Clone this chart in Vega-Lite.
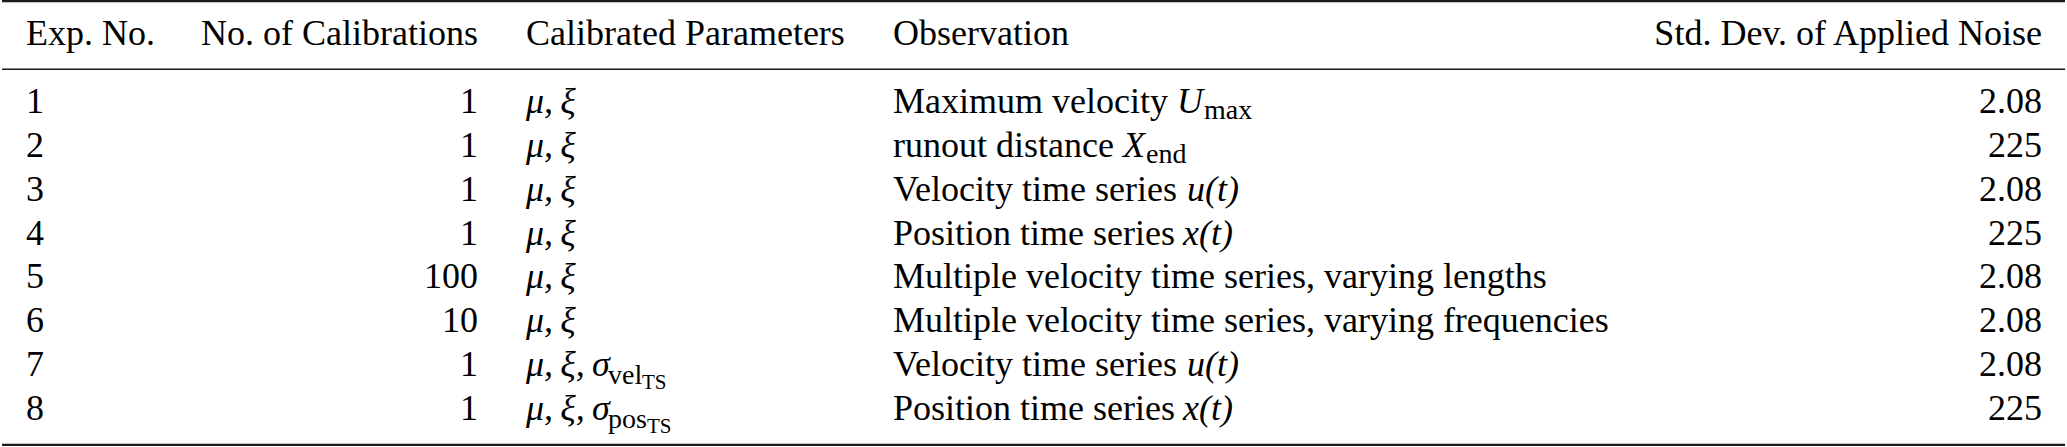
{
  "$schema": "https://vega.github.io/schema/vega-lite/v6.json",
  "width": 2067,
  "height": 447,
  "autosize": {"type": "fit", "contains": "padding"},
  "padding": 0,
  "background": "white",
  "datasets": {
    "cells": [
      {"line": 0, "col": 1, "part": "main", "text": "Exp. No."},
      {"line": 0, "col": 2, "part": "main", "text": "No. of Calibrations"},
      {"line": 0, "col": 3, "part": "main", "text": "Calibrated Parameters"},
      {"line": 0, "col": 4, "part": "main", "text": "Observation"},
      {"line": 0, "col": 5, "part": "main", "text": "Std. Dev. of Applied Noise"},

      {"line": 1, "col": 1, "part": "main", "text": "1"},
      {"line": 1, "col": 2, "part": "main", "text": "1"},
      {"line": 1, "col": 3, "part": "main", "text": "μ,\u2009ξ"},
      {"line": 1, "col": 4, "part": "main", "text": "Maximum velocity"},
      {"line": 1, "col": 4, "part": "var", "text": "U"},
      {"line": 1, "col": 4, "part": "sub", "text": "max"},
      {"line": 1, "col": 5, "part": "main", "text": "2.08"},

      {"line": 2, "col": 1, "part": "main", "text": "2"},
      {"line": 2, "col": 2, "part": "main", "text": "1"},
      {"line": 2, "col": 3, "part": "main", "text": "μ,\u2009ξ"},
      {"line": 2, "col": 4, "part": "main", "text": "runout distance"},
      {"line": 2, "col": 4, "part": "var", "text": "X"},
      {"line": 2, "col": 4, "part": "sub", "text": "end"},
      {"line": 2, "col": 5, "part": "main", "text": "225"},

      {"line": 3, "col": 1, "part": "main", "text": "3"},
      {"line": 3, "col": 2, "part": "main", "text": "1"},
      {"line": 3, "col": 3, "part": "main", "text": "μ,\u2009ξ"},
      {"line": 3, "col": 4, "part": "main", "text": "Velocity time series"},
      {"line": 3, "col": 4, "part": "var", "text": "u(t)"},
      {"line": 3, "col": 5, "part": "main", "text": "2.08"},

      {"line": 4, "col": 1, "part": "main", "text": "4"},
      {"line": 4, "col": 2, "part": "main", "text": "1"},
      {"line": 4, "col": 3, "part": "main", "text": "μ,\u2009ξ"},
      {"line": 4, "col": 4, "part": "main", "text": "Position time series"},
      {"line": 4, "col": 4, "part": "var", "text": "x(t)"},
      {"line": 4, "col": 5, "part": "main", "text": "225"},

      {"line": 5, "col": 1, "part": "main", "text": "5"},
      {"line": 5, "col": 2, "part": "main", "text": "100"},
      {"line": 5, "col": 3, "part": "main", "text": "μ,\u2009ξ"},
      {"line": 5, "col": 4, "part": "main", "text": "Multiple velocity time series, varying lengths"},
      {"line": 5, "col": 5, "part": "main", "text": "2.08"},

      {"line": 6, "col": 1, "part": "main", "text": "6"},
      {"line": 6, "col": 2, "part": "main", "text": "10"},
      {"line": 6, "col": 3, "part": "main", "text": "μ,\u2009ξ"},
      {"line": 6, "col": 4, "part": "main", "text": "Multiple velocity time series, varying frequencies"},
      {"line": 6, "col": 5, "part": "main", "text": "2.08"},

      {"line": 7, "col": 1, "part": "main", "text": "7"},
      {"line": 7, "col": 2, "part": "main", "text": "1"},
      {"line": 7, "col": 3, "part": "main", "text": "μ,\u2009ξ,\u2009σ"},
      {"line": 7, "col": 3, "part": "sub", "text": "vel"},
      {"line": 7, "col": 3, "part": "subsub", "text": "TS"},
      {"line": 7, "col": 4, "part": "main", "text": "Velocity time series"},
      {"line": 7, "col": 4, "part": "var", "text": "u(t)"},
      {"line": 7, "col": 5, "part": "main", "text": "2.08"},

      {"line": 8, "col": 1, "part": "main", "text": "8"},
      {"line": 8, "col": 2, "part": "main", "text": "1"},
      {"line": 8, "col": 3, "part": "main", "text": "μ,\u2009ξ,\u2009σ"},
      {"line": 8, "col": 3, "part": "sub", "text": "pos"},
      {"line": 8, "col": 3, "part": "subsub", "text": "TS"},
      {"line": 8, "col": 4, "part": "main", "text": "Position time series"},
      {"line": 8, "col": 4, "part": "var", "text": "x(t)"},
      {"line": 8, "col": 5, "part": "main", "text": "225"}
    ]
  },
  "layer": [
    {
      "data": {"values": [{}]},
      "mark": {"type": "rule", "strokeWidth": 2.2, "color": "#1a1a1a"},
      "encoding": {
        "y": {"datum": -1, "type": "quantitative", "scale": {"domain": [-1, 0, 0.5, 1, 8, 9], "range": [1.2, 45, 69.2, 113, 420, 444.8], "nice": false, "zero": false}, "axis": null}
      }
    },
    {
      "data": {"values": [{}]},
      "mark": {"type": "rule", "strokeWidth": 1.4, "color": "#1a1a1a"},
      "encoding": {
        "y": {"datum": 0.5, "type": "quantitative", "axis": null}
      }
    },
    {
      "data": {"values": [{}]},
      "mark": {"type": "rule", "strokeWidth": 2.2, "color": "#1a1a1a"},
      "encoding": {
        "y": {"datum": 9, "type": "quantitative", "axis": null}
      }
    },
    {
      "data": {"name": "cells"},
      "encoding": {
        "x": {"field": "col", "type": "quantitative", "scale": {"domain": [1, 2, 3, 4, 5], "range": [24, 476, 524, 891, 2040], "nice": false, "zero": false}, "axis": null},
        "y": {"field": "line", "type": "quantitative", "axis": null},
        "text": {"field": "text"}
      },
      "layer": [
        {
          "transform": [{"filter": "datum.part == 'main' && (datum.col == 1 || datum.col == 4 || (datum.col == 3 && datum.line == 0))"}],
          "mark": {"type": "text", "align": "left"}
        },
        {
          "transform": [{"filter": "datum.part == 'main' && (datum.col == 2 || datum.col == 5)"}],
          "mark": {"type": "text", "align": "right"}
        },
        {
          "transform": [{"filter": "datum.part == 'main' && datum.col == 3 && datum.line > 0"}],
          "mark": {"type": "text", "align": "left", "fontStyle": "italic"}
        },
        {
          "transform": [{"filter": "datum.part == 'var' && datum.line == 1"}],
          "mark": {"type": "text", "align": "left", "fontStyle": "italic", "dx": 284}
        },
        {
          "transform": [{"filter": "datum.part == 'var' && datum.line == 2"}],
          "mark": {"type": "text", "align": "left", "fontStyle": "italic", "dx": 230}
        },
        {
          "transform": [{"filter": "datum.part == 'var' && (datum.line == 3 || datum.line == 7)"}],
          "mark": {"type": "text", "align": "left", "fontStyle": "italic", "dx": 294}
        },
        {
          "transform": [{"filter": "datum.part == 'var' && (datum.line == 4 || datum.line == 8)"}],
          "mark": {"type": "text", "align": "left", "fontStyle": "italic", "dx": 290}
        },
        {
          "transform": [{"filter": "datum.part == 'sub' && datum.line == 1"}],
          "mark": {"type": "text", "align": "left", "fontSize": 28, "dx": 311, "dy": 6}
        },
        {
          "transform": [{"filter": "datum.part == 'sub' && datum.line == 2"}],
          "mark": {"type": "text", "align": "left", "fontSize": 28, "dx": 253, "dy": 6}
        },
        {
          "transform": [{"filter": "datum.part == 'sub' && datum.col == 3"}],
          "mark": {"type": "text", "align": "left", "fontSize": 28, "dx": 82, "dy": 8}
        },
        {
          "transform": [{"filter": "datum.part == 'subsub' && datum.line == 7"}],
          "mark": {"type": "text", "align": "left", "fontSize": 21, "dx": 116, "dy": 13}
        },
        {
          "transform": [{"filter": "datum.part == 'subsub' && datum.line == 8"}],
          "mark": {"type": "text", "align": "left", "fontSize": 21, "dx": 121, "dy": 13}
        }
      ]
    }
  ],
  "config": {
    "view": {"stroke": null},
    "text": {"font": "Liberation Serif", "fontSize": 36, "color": "black", "baseline": "alphabetic"}
  }
}
